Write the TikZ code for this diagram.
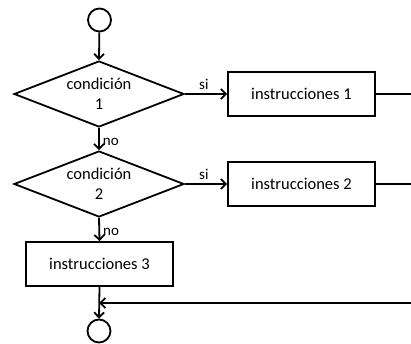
\documentclass[tikz,border=0pt]{standalone}
\usepackage{fontspec}
\setmainfont{Carlito}
\usetikzlibrary{shapes.geometric,arrows.meta}
\begin{document}
\begin{tikzpicture}[x=1pt,y=-1pt,
  every node/.style={font=\fontsize{16.5}{20}\selectfont, text=black},
  flow/.style={line width=1.8pt, -{Straight Barb[length=5pt,width=10pt,line width=1.8pt]}},
  plain/.style={line width=1.8pt},
  cond/.style={diamond, draw, line width=1.8pt, minimum width=170pt, minimum height=66pt, inner sep=0pt, aspect=2.58, align=center},
  instr/.style={rectangle, draw, line width=1.8pt, minimum width=147pt, minimum height=44pt, inner sep=0pt},
  term/.style={circle, draw, line width=1.8pt, minimum size=23pt, inner sep=0pt},
  lbl/.style={font=\fontsize{15}{18}\selectfont, inner sep=0pt}]
\useasboundingbox (0,0) rectangle (411,344);
\node[term] (start) at (99.5,20) {};
\node[cond] (c1) at (99,94) {condición\\1};
\node[cond] (c2) at (99,184) {condición\\2};
\node[instr] (i1) at (301.5,94) {instrucciones 1};
\node[instr] (i2) at (301.5,184) {instrucciones 2};
\node[instr] (i3) at (99.5,264) {instrucciones 3};
\node[term] (stop) at (99,331) {};
\coordinate (e1) at (411,94);
\coordinate (e2) at (411,184);
\coordinate (e3) at (411,303);
\coordinate (m) at (99,303);
\draw[flow] (start) -- (c1.north);
\draw[flow] (c1.south) -- node[lbl, right, xshift=3pt, pos=0.62] (n1) {no} (c2.north);
\draw[flow] (c2.south) -- node[lbl, right, xshift=3pt, pos=0.6] (n2) {no} (i3.north);
\draw[flow] (c1.east) -- node[lbl, above, yshift=3pt, pos=0.45] (s1) {si} (i1.west);
\draw[flow] (c2.east) -- node[lbl, above, yshift=3pt, pos=0.45] (s2) {si} (i2.west);
\draw[plain] (i1.east) -- (e1);
\draw[plain] (i2.east) -- (e2);
\draw[flow] (i3.south) -- (stop.north);
\draw[flow] (e3) -- (m);
\end{tikzpicture}
\end{document}
